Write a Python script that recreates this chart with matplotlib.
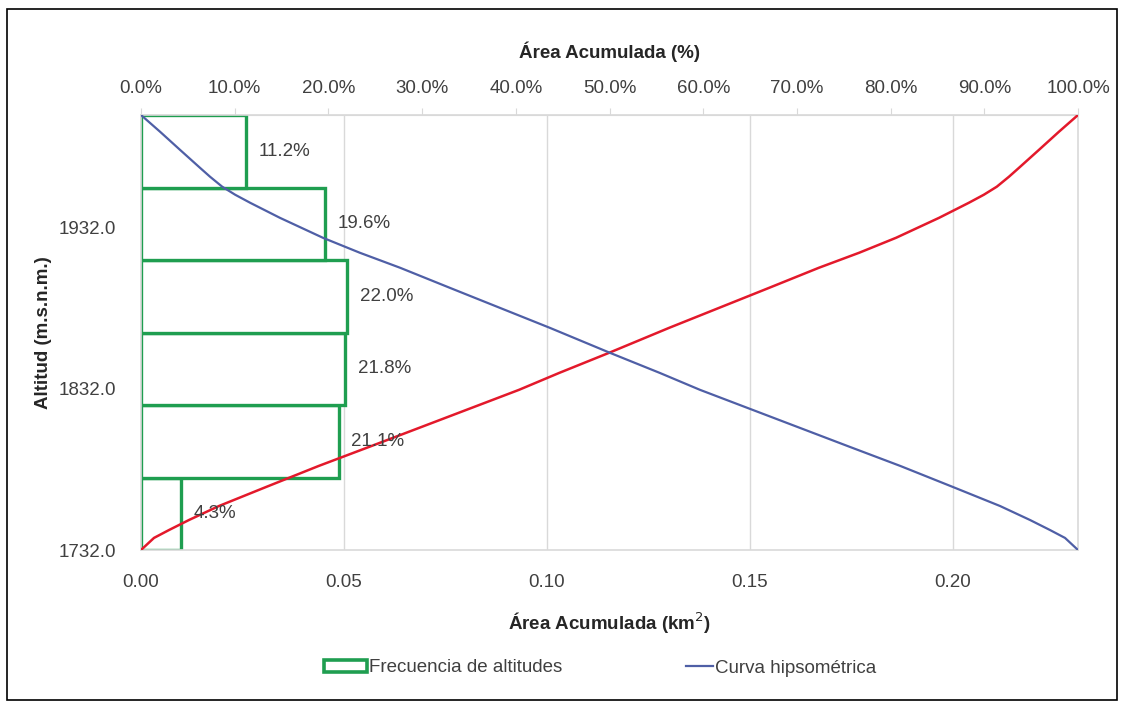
import matplotlib
matplotlib.use("Agg")
import matplotlib.pyplot as plt
from matplotlib.patches import Patch, Rectangle
from matplotlib.lines import Line2D
from matplotlib.ticker import FuncFormatter, FixedLocator

plt.rcParams['font.family'] = ['Liberation Sans Narrow', 'Liberation Sans', 'DejaVu Sans']

# Altitude classes (m.s.n.m.) and share of the basin area in each class (%)
bin_edges = [1732, 1777, 1822, 1867, 1912, 1957, 2002]
freq_pct = [4.3, 21.1, 21.8, 22.0, 19.6, 11.2]

# Hypsometric curve: cumulative area above each altitude (km²)
curve_alt = [2002.0, 1991.6, 1980.4, 1969.3, 1963.7, 1957.5, 1952.5, 1947.5,
             1938.2, 1925.8, 1916.5, 1907.2, 1894.7, 1882.3, 1869.9, 1854.4,
             1841.9, 1831.4, 1819.6, 1807.8, 1796.0, 1784.2, 1771.1, 1759.3,
             1750.6, 1744.4, 1739.5, 1732.0]
curve_area = [0.0, 0.0047, 0.0096, 0.0145, 0.0170, 0.0200, 0.0232, 0.0269,
              0.0342, 0.0448, 0.0539, 0.0638, 0.0761, 0.0884, 0.1007, 0.1155,
              0.1278, 0.1377, 0.1500, 0.1623, 0.1746, 0.1870, 0.2000, 0.2116,
              0.2190, 0.2239, 0.2276, 0.2308]

total_area = curve_area[-1]
# Complementary curve: cumulative area below each altitude
area_below = [total_area - a for a in curve_area]

green = '#1F9E50'
blue = '#4F5FA6'
red = '#E3192B'
grid_c = '#D9D9D9'
txt_c = '#404040'
fs = 13.5

fig = plt.figure(figsize=(11.24, 7.04), dpi=100)
ax = fig.add_axes([141 / 1124, 1 - 550 / 704, (1078 - 141) / 1124, (550 - 115) / 704])

# Frequency bars
bottoms = bin_edges[:-1]
heights = [b - a for a, b in zip(bin_edges[:-1], bin_edges[1:])]
widths = [p / 100 * total_area for p in freq_pct]
ax.barh(bottoms, widths, height=heights, align='edge', facecolor='white',
        edgecolor=green, linewidth=2.4, zorder=2)
for y0, h, w, p in zip(bottoms, heights, widths, freq_pct):
    ax.annotate(f"{p:.1f}%", xy=(w, y0 + h / 2), xytext=(9, 0),
                textcoords='offset points', va='center', ha='left',
                fontsize=fs, color=txt_c, zorder=5)

# Curves
ax.plot(area_below, curve_alt, color=red, lw=1.8, zorder=4)
ax.plot(curve_area, curve_alt, color=blue, lw=1.6, zorder=4)

ax.set_xlim(0, total_area)
ax.set_ylim(bin_edges[0], bin_edges[-1])
ax.set_xticks([0.0, 0.05, 0.10, 0.15, 0.20])
ax.xaxis.set_major_formatter(FuncFormatter(lambda v, _: f"{v:.2f}"))
ax.set_yticks([1732, 1832, 1932])
ax.yaxis.set_major_formatter(FuncFormatter(lambda v, _: f"{v:.1f}"))
ax.tick_params(axis='x', length=0, labelsize=fs, labelcolor=txt_c, pad=17)
ax.tick_params(axis='y', length=0, labelsize=fs, labelcolor=txt_c, pad=18)
ax.grid(axis='x', color=grid_c, lw=1.0, zorder=0)
ax.set_axisbelow(True)
for s in ax.spines.values():
    s.set_color(grid_c)
    s.set_linewidth(1.2)

ax.set_xlabel("Área Acumulada (km$^2$)", fontsize=fs, fontweight='bold',
              color='#262626', labelpad=14)
ax.set_ylabel("Altitud (m.s.n.m.)", fontsize=fs, fontweight='bold',
              color='#262626', labelpad=5)

# Top axis in percent of the total area
top = ax.secondary_xaxis('top', functions=(lambda v: v / total_area * 100,
                                           lambda p: p / 100 * total_area))
top.xaxis.set_major_locator(FixedLocator(list(range(0, 101, 10))))
top.xaxis.set_major_formatter(FuncFormatter(lambda v, _: f"{v:.1f}%"))
top.tick_params(length=5, color=grid_c, labelsize=fs, labelcolor=txt_c, pad=8)
top.spines['top'].set_color(grid_c)
top.set_xlabel("Área Acumulada (%)", fontsize=fs, fontweight='bold',
               color='#262626', labelpad=16)

# Legend entries
leg_y = 1 - 668 / 704
fig.legend([Patch(facecolor='white', edgecolor=green, linewidth=2.6)],
           ["Frecuencia de altitudes"], loc='center left',
           bbox_to_anchor=(324 / 1124, leg_y), frameon=False, fontsize=fs,
           handlelength=2.3, handleheight=0.6, handletextpad=0.1,
           borderpad=0, borderaxespad=0, labelcolor=txt_c)
fig.legend([Line2D([], [], color=blue, lw=1.6)],
           ["Curva hipsométrica"], loc='center left',
           bbox_to_anchor=(686 / 1124, leg_y), frameon=False, fontsize=fs,
           handlelength=1.45, handletextpad=0.1,
           borderpad=0, borderaxespad=0, labelcolor=txt_c)

# Outer border
fig.patches.append(Rectangle((7 / 1124, 4 / 704), (1117 - 7) / 1124, (695 - 4) / 704,
                             transform=fig.transFigure, fill=False,
                             edgecolor='black', linewidth=1.2))

fig.savefig("out.png", dpi=100, facecolor='white')
